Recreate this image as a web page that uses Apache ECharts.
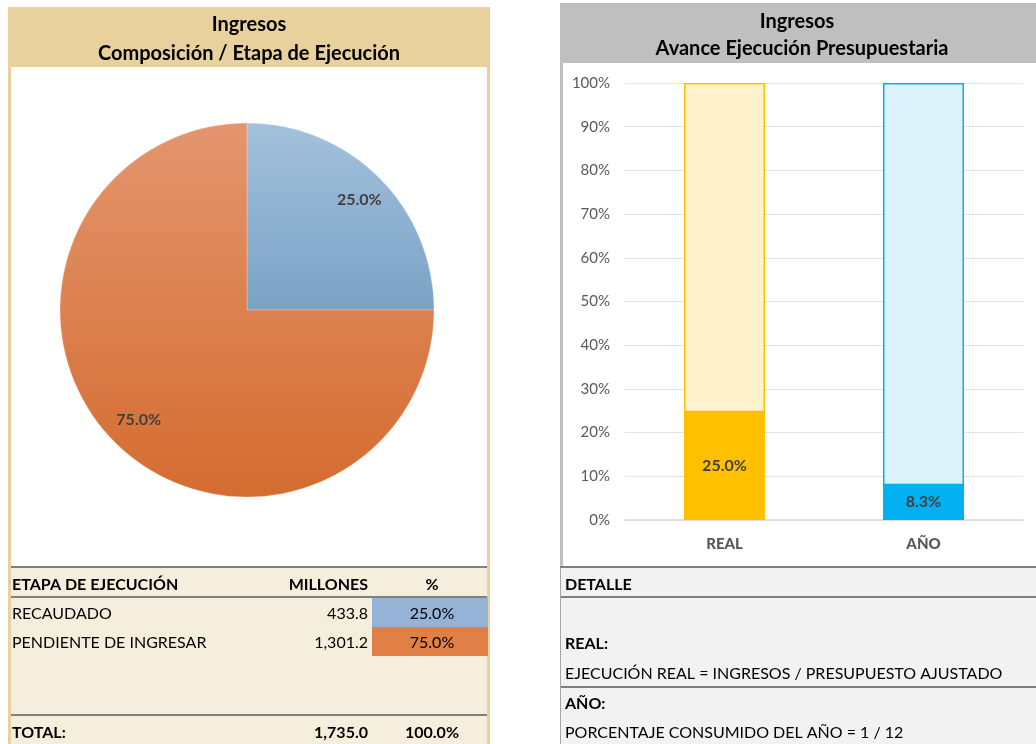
<!DOCTYPE html>
<html>
<head>
<meta charset="utf-8">
<script src="https://cdn.jsdelivr.net/npm/echarts@6/dist/echarts.min.js"></script>
<style>
  html, body { margin: 0; padding: 0; background: #fff; }
  #main { width: 1036px; height: 744px; }
</style>
</head>
<body>
<div id="main"></div>
<script>
// datos
const etapas = ['RECAUDADO', 'PENDIENTE DE INGRESAR'];
const millones = [433.8, 1301.2];
const porcentajes = [25.0, 75.0];
const totalMillones = 1735.0;
const totalPct = 100.0;
const avanceCats = ['REAL', 'AÑO'];
const avanceVals = [25.0, 8.3];
const avanceFondo = [100, 100];

const FONT = 'Lato, "Open Sans", sans-serif';
const colPie = [
    ['#A3C1DC', '#7AA2C5'],
    ['#E4956E', '#D46C30']
];
const colCelda = ['#95B3D7', '#E07F46'];
const colBar = ['#FFC000', '#00B0F0'];
const colBarFondo = ['#FFF2CC', '#DDF2FB'];

function fmt(v) {
    return v.toLocaleString('en-US', { minimumFractionDigits: 1, maximumFractionDigits: 1 });
}

function txt(x, y, text, opts) {
    opts = opts || {};
    return {
        type: 'text', x: x, y: y, silent: true, z: 10,
        style: {
            text: text,
            fill: opts.color || '#000',
            font: (opts.bold ? 'bold ' : '') + (opts.size || 16) + 'px ' + FONT,
            textAlign: opts.align || 'left',
            textVerticalAlign: 'middle'
        }
    };
}
function rect(x, y, w, h, fill) {
    return { type: 'rect', silent: true, z: -5, shape: { x: x, y: y, width: w, height: h }, style: { fill: fill } };
}

const chart = echarts.init(document.getElementById('main'));

const graphics = [
    // panel izquierdo
    rect(8, 7, 482, 737, '#E8D19D'),
    rect(11, 67, 476, 500, '#FFFFFF'),
    rect(11, 567, 476, 177, '#F6EEDD'),
    rect(11, 566, 476, 2, '#7F7F7F'),
    rect(11, 596, 476, 2, '#7F7F7F'),
    rect(11, 714, 476, 2, '#7F7F7F'),
    txt(249, 25, 'Ingresos', { bold: true, size: 20, align: 'center' }),
    txt(249, 54, 'Composición / Etapa de Ejecución', { bold: true, size: 20, align: 'center' }),
    txt(12, 585, 'ETAPA DE EJECUCIÓN', { bold: true }),
    txt(368, 585, 'MILLONES', { bold: true, align: 'right' }),
    txt(432, 585, '%', { bold: true, align: 'center' }),
    txt(12, 733, 'TOTAL:', { bold: true }),
    txt(368, 733, fmt(totalMillones), { bold: true, align: 'right' }),
    txt(432, 733, fmt(totalPct) + '%', { bold: true, align: 'center' }),

    // panel derecho
    rect(560, 3, 476, 60, '#BFBFBF'),
    rect(560, 63, 3, 505, '#BFBFBF'),
    rect(563, 63, 473, 503, '#FFFFFF'),
    rect(560, 568, 476, 176, '#F2F2F2'),
    rect(560, 566, 476, 2, '#7F7F7F'),
    rect(560, 568, 1, 176, '#A6A6A6'),
    rect(561, 596, 475, 2, '#7F7F7F'),
    rect(561, 686, 475, 2, '#7F7F7F'),
    txt(797, 22, 'Ingresos', { bold: true, size: 20, align: 'center' }),
    txt(802, 49, 'Avance Ejecución Presupuestaria', { bold: true, size: 20, align: 'center' }),
    txt(565, 585, 'DETALLE', { bold: true }),
    txt(565, 644, 'REAL:', { bold: true }),
    txt(565, 674, 'EJECUCIÓN REAL = INGRESOS / PRESUPUESTO AJUSTADO'),
    txt(565, 704, 'AÑO:', { bold: true }),
    txt(565, 733, 'PORCENTAJE CONSUMIDO DEL AÑO = 1 / 12')
];

// filas de la tabla
etapas.forEach((e, i) => {
    const y = 598 + i * 29;
    graphics.push(rect(372, y, 116, 29, colCelda[i]));
    graphics.push(txt(12, y + 16, e));
    graphics.push(txt(368, y + 16, fmt(millones[i]), { align: 'right' }));
    graphics.push(txt(432, y + 16, fmt(porcentajes[i]) + '%', { align: 'center' }));
});

const pieData = etapas.map((e, i) => ({
    name: e,
    value: porcentajes[i],
    itemStyle: {
        color: new echarts.graphic.LinearGradient(0, 0, 0, 1, [
            { offset: 0, color: colPie[i][0] },
            { offset: 1, color: colPie[i][1] }
        ])
    }
}));

const option = {
    animation: false,
    textStyle: { fontFamily: FONT },
    graphic: { elements: graphics },
    grid: { left: 625, right: 13, top: 83, bottom: 224 },
    xAxis: {
        type: 'category',
        data: avanceCats,
        axisLine: { lineStyle: { color: '#D9D9D9', width: 1.5 } },
        axisTick: { show: false },
        axisLabel: { color: '#595959', fontSize: 15, fontWeight: 900, margin: 17, fontFamily: FONT }
    },
    yAxis: {
        type: 'value',
        min: 0, max: 100, interval: 10,
        axisLine: { show: false },
        axisTick: { show: false },
        splitLine: { lineStyle: { color: '#E3E3E3' } },
        axisLabel: { color: '#595959', fontSize: 15, margin: 15, formatter: '{value}%', fontFamily: FONT }
    },
    series: [
        {
            type: 'pie',
            center: [247, 310],
            radius: 187,
            startAngle: 90,
            silent: true,
            z: 3,
            label: { show: false },
            labelLine: { show: false },
            itemStyle: { borderColor: 'rgba(255,255,255,0.5)', borderWidth: 0.5 },
            data: pieData
        },
        {
            // capa de etiquetas del pie
            type: 'pie',
            center: [249, 310],
            radius: 306,
            startAngle: 90,
            silent: true,
            z: 4,
            itemStyle: { color: 'rgba(0,0,0,0)' },
            label: {
                show: true, position: 'inside',
                formatter: p => p.value.toFixed(1) + '%',
                color: '#404040', fontWeight: 'bold', fontSize: 16, fontFamily: FONT
            },
            labelLine: { show: false },
            data: etapas.map((e, i) => ({ name: e, value: porcentajes[i] }))
        },
        {
            type: 'bar',
            barWidth: 81,
            barGap: '-100%',
            silent: true,
            z: 2,
            data: avanceFondo.map((v, i) => ({
                value: v,
                itemStyle: { color: colBarFondo[i], borderColor: colBar[i], borderWidth: 1.5 }
            }))
        },
        {
            type: 'bar',
            barWidth: 81,
            silent: true,
            z: 3,
            label: {
                show: true, position: 'inside',
                formatter: p => p.value.toFixed(1) + '%',
                color: '#404040', fontWeight: 'bold', fontSize: 16, fontFamily: FONT
            },
            data: avanceVals.map((v, i) => ({ value: v, itemStyle: { color: colBar[i] } }))
        }
    ]
};

chart.setOption(option);
</script>
</body>
</html>
